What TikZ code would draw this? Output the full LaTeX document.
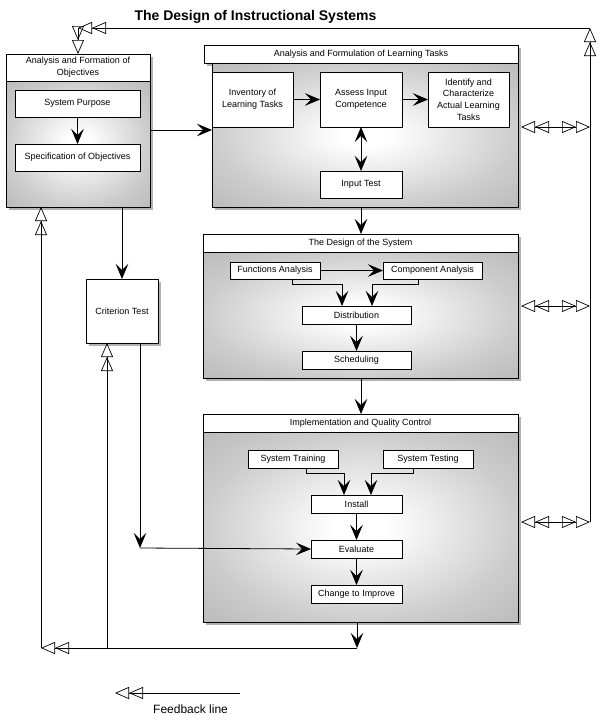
\documentclass[tikz,border=0pt]{standalone}
\usepackage{fontspec}
\setmainfont{Liberation Sans}
\usetikzlibrary{arrows.meta,backgrounds,calc}
\pgfdeclareradialshading{boxshade}{\pgfpoint{0bp}{0bp}}{color(0bp)=(white); color(4bp)=(white); color(25bp)=(black!20); color(50bp)=(black!36); color(72bp)=(black!46)}
\tikzset{
  base/.style={draw, line width=0.8pt, inner sep=0pt, outer sep=0pt, align=center, font=\fontsize{9}{11.7}\selectfont},
  inbox/.style={base, fill=white},
  headbox/.style={base, fill=white},
  bodybox/.style={draw, line width=0.8pt, shading=boxshade, inner sep=0pt, outer sep=0pt},
  shadowc/.style={fill=black!30},
  arr/.style={line width=0.8pt, -{Stealth[length=15pt,width=12.5pt,inset=6pt]}},
  biarr/.style={line width=0.8pt, {Stealth[length=15pt,width=12.5pt,inset=6pt]}-{Stealth[length=15pt,width=12.5pt,inset=6pt]}},
  fb/.style={line width=0.7pt, -{Triangle[open,length=14pt,width=12pt] Triangle[open,length=14pt,width=12pt]}},
  fbb/.style={line width=0.7pt, {Triangle[open,length=14pt,width=12pt] Triangle[open,length=14pt,width=12pt]}-{Triangle[open,length=14pt,width=12pt] Triangle[open,length=14pt,width=12pt]}},
  titletext/.style={font=\fontsize{14}{17}\bfseries\selectfont, anchor=base, inner sep=0pt},
  legendtext/.style={font=\fontsize{12}{14}\selectfont, anchor=base west, inner sep=0pt}
}
\begin{document}
\begin{tikzpicture}[x=1pt,y=-1pt]
\useasboundingbox (0,0) rectangle (605,723);

\node[titletext] (ttl) at (255.5,20.5) {The Design of Instructional Systems};

% left box
\node[headbox, minimum width=144, minimum height=27] (lhead) at (78,67.5) {Analysis and Formation of\\Objectives};
\node[bodybox, minimum width=144, minimum height=126] (lbody) at (78,144) {};
\node[inbox, minimum width=125, minimum height=27] (sp) at (77.5,103.5) {System Purpose};
\node[inbox, minimum width=125, minimum height=27] (spec) at (77.5,157.5) {Specification of Objectives};

% box 1
\node[headbox, minimum width=314, minimum height=18] (b1head) at (361,54) {Analysis and Formulation of Learning Tasks};
\node[bodybox, minimum width=306, minimum height=144] (b1body) at (365,135) {};
\node[inbox, minimum width=81, minimum height=55] (inv) at (252.5,99.5) {Inventory of\\Learning Tasks};
\node[inbox, minimum width=82, minimum height=55] (assess) at (361,99.5) {Assess Input\\Competence};
\node[inbox, minimum width=81, minimum height=55] (ident) at (468.5,99.5) {Identify and\\Characterize\\Actual Learning\\Tasks};
\node[inbox, minimum width=82, minimum height=27] (itest) at (361,184.5) {Input Test};

% box 2
\node[headbox, minimum width=315, minimum height=18] (b2head) at (360.5,243) {The Design of the System};
\node[bodybox, minimum width=315, minimum height=126] (b2body) at (360.5,315) {};
\node[inbox, minimum width=90, minimum height=17] (func) at (275,270.5) {Functions Analysis};
\node[inbox, minimum width=99, minimum height=17] (comp) at (432.5,270.5) {Component Analysis};
\node[inbox, minimum width=109, minimum height=18] (dist) at (356.5,315) {Distribution};
\node[inbox, minimum width=109, minimum height=18] (sched) at (356.5,360) {Scheduling};

% box 3
\node[headbox, minimum width=315, minimum height=18] (b3head) at (360.5,423) {Implementation and Quality Control};
\node[bodybox, minimum width=315, minimum height=190] (b3body) at (360.5,527) {};
\node[inbox, minimum width=90, minimum height=18] (train) at (293,459) {System Training};
\node[inbox, minimum width=90, minimum height=18] (testg) at (428,459) {System Testing};
\node[inbox, minimum width=91, minimum height=18] (install) at (356.5,504) {Install};
\node[inbox, minimum width=91, minimum height=18] (eval) at (356.5,549) {Evaluate};
\node[inbox, minimum width=91, minimum height=18] (change) at (356.5,594) {Change to Improve};

% criterion test
\node[inbox, minimum width=72, minimum height=64] (crit) at (122,311) {Criterion Test};

% helper coordinates
\coordinate (y130) at (0,130);
\coordinate (y127) at (0,127);
\coordinate (y306) at (0,306);
\coordinate (y522) at (0,522);
\coordinate (rt) at (590,28);
\coordinate (rb) at (590,522);
\coordinate (lt) at (78,28);
\coordinate (bj) at (357,648);
\coordinate (lj) at (41,648);
\coordinate (mj) at (107,648);
\coordinate (cj) at (140,548);
\coordinate (legR) at (240,693);
\coordinate (legL) at (115,693);

% shadows and background
\begin{scope}[on background layer]
  \fill[white] (0,0) rectangle (605,723);
  \fill[shadowc] ([shift={(3,3)}]lhead.north west) rectangle ([shift={(3,3)}]lbody.south east);
  \fill[shadowc] ([shift={(3,3)}]b1head.north west) rectangle ([shift={(3,3)}]b1head.south east);
  \fill[shadowc] ([shift={(3,3)}]b1body.north west) rectangle ([shift={(3,3)}]b1body.south east);
  \fill[shadowc] ([shift={(3,3)}]b2head.north west) rectangle ([shift={(3,3)}]b2body.south east);
  \fill[shadowc] ([shift={(3,3)}]b3head.north west) rectangle ([shift={(3,3)}]b3body.south east);
  \fill[shadowc] ([shift={(3,3)}]crit.north west) rectangle ([shift={(3,3)}]crit.south east);
\end{scope}

% connectors inside boxes
\draw[arr] (sp) -- (spec);
\draw[arr] (inv) -- (assess);
\draw[arr] (assess) -- (ident);
\draw[biarr] (assess) -- (itest);
\draw[arr] (func) -- (comp);
\draw[arr] ([xshift=17pt]func.south) -- ++(0,5) -| ([xshift=-14.5pt]dist.north);
\draw[arr] ([xshift=-14.5pt]comp.south) -- ++(0,5) -| ([xshift=15.5pt]dist.north);
\draw[arr] (dist) -- (sched);
\draw[arr] ([xshift=13pt]train.south) -- ++(0,5) -| ([xshift=-12.5pt]install.north);
\draw[arr] ([xshift=-15pt]testg.south) -- ++(0,5) -| ([xshift=14.5pt]install.north);
\draw[arr] (install) -- (eval);
\draw[arr] (eval) -- (change);

% connectors between boxes
\draw[arr] (lbody.east |- y130) -- (b1body.west |- y130);
\draw[arr] (b1body.south -| itest) -- (b2head.north -| itest);
\draw[arr] (b2body.south -| itest) -- (b3head.north -| itest);
\draw[arr] (crit.north |- lbody.south) -- (crit.north);
\draw[arr] (crit.south -| cj) -- (cj);
\draw[arr] (cj) -- (eval.west);
\draw[arr] (b3body.south -| bj) -- (bj);

% feedback lines
\draw[fb] (bj) -- (lj);
\draw[fb] (lj) -- (lbody.south -| lj);
\draw[fb] (mj) -- (crit.south -| mj);
\draw[fb] (rb) -- (rt);
\draw[fb] (rt) -- (lt);
\draw[fb] (lt) -- (lhead.north);
\draw[fbb, shorten <=3pt] (b1body.east |- y127) -- (rt |- y127);
\draw[fbb, shorten <=3pt] (b2body.east |- y306) -- (rt |- y306);
\draw[fbb, shorten <=3pt] (b3body.east |- y522) -- (rt |- y522);

% legend
\draw[fb] (legR) -- (legL);
\node[legendtext] (leg) at (153,713) {Feedback line};
\end{tikzpicture}
\end{document}
